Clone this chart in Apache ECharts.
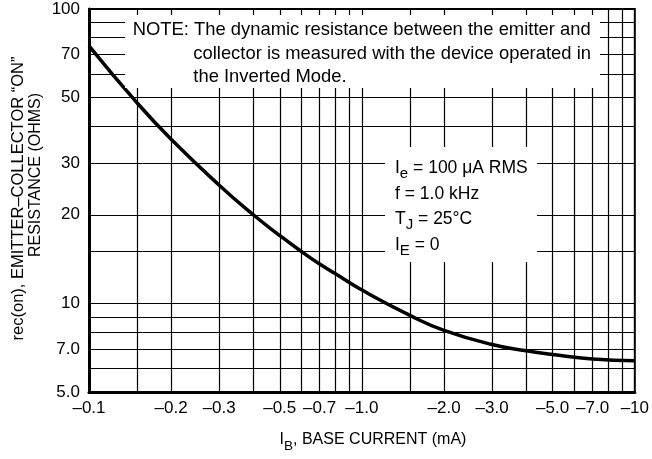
<!DOCTYPE html>
<html>
<head>
<meta charset="utf-8">
<script src="https://cdn.jsdelivr.net/npm/echarts@6/dist/echarts.min.js"></script>
<style>
  html, body { margin: 0; padding: 0; background: #fff; }
  #chart { width: 652px; height: 459px; }
</style>
</head>
<body>
<div id="chart"></div>
<script>
// values
const baseCurrent = [0.1, 0.15, 0.2, 0.3, 0.4, 0.5, 0.6, 0.7, 0.8, 1.0, 1.5, 2.0, 3.0, 4.0, 5.0, 7.0, 10];
const resistance = [75, 48, 36.1, 25.2, 20, 17.0, 15.0, 13.6, 12.6, 11.1, 9.1, 8.1, 7.25, 6.9, 6.7, 6.47, 6.38];

const xTickValues = [0.1, 0.2, 0.3, 0.5, 0.7, 1, 2, 3, 5, 7, 10];
const xTickLabels = ["–0.1", "–0.2", "–0.3", "–0.5", "–0.7", "–1.0", "–2.0", "–3.0", "–5.0", "–7.0", "–10"];
const yTickValues = [5, 7, 10, 20, 30, 50, 70, 100];
const yTickLabels = ["5.0", "7.0", "10", "20", "30", "50", "70", "100"];

const xGridValues = [0.15, 0.2, 0.3, 0.4, 0.5, 0.6, 0.7, 0.8, 0.9, 1, 1.5, 2, 3, 4, 5, 6, 7, 8, 9];
const yGridValues = [6, 7, 8, 9, 10, 15, 20, 30, 40, 50, 60, 70, 80, 90];

const noteLines = [
  "NOTE: The dynamic resistance between the emitter and",
  "collector is measured with the device operated in",
  "the Inverted Mode."
];

const FONT = '"Liberation Sans", Arial, sans-serif';

function lookup(values, labels, v) {
  const i = values.findIndex((t) => Math.abs(t - v) < 1e-6 * t);
  return i < 0 ? "" : labels[i];
}

const chart = echarts.init(document.getElementById("chart"));

const gridLines = [];
xGridValues.forEach((v) => gridLines.push({ xAxis: v }));
yGridValues.forEach((v) => gridLines.push({ yAxis: v }));

// rich text: normal + lowered subscript
function subRich(size, subSize, drop) {
  const pad = size * 0.8465 + drop - subSize * 0.8465;
  return {
    n: { fontSize: size, fontFamily: FONT, color: "#000", verticalAlign: "top", lineHeight: size },
    s: { fontSize: subSize, fontFamily: FONT, color: "#000", verticalAlign: "top", lineHeight: subSize, padding: [pad, 0, 0, 0] }
  };
}

const option = {
  animation: false,
  textStyle: { fontFamily: FONT },
  grid: {
    left: 89,
    right: 14,
    top: 9,
    bottom: 67,
    show: true,
    borderColor: "#000",
    borderWidth: 2
  },
  xAxis: {
    type: "log",
    logBase: 10,
    min: 0.1,
    max: 10,
    axisLine: { show: true, onZero: false, lineStyle: { color: "#000", width: 3 } },
    axisTick: { show: false },
    splitLine: { show: false },
    minorSplitLine: { show: false },
    axisLabel: {
      customValues: xTickValues,
      formatter: (v) => lookup(xTickValues, xTickLabels, v),
      color: "#000",
      fontSize: 17,
      fontFamily: FONT,
      margin: 8
    }
  },
  yAxis: {
    type: "log",
    logBase: 10,
    min: 5,
    max: 100,
    axisLine: { show: true, onZero: false, lineStyle: { color: "#000", width: 3 } },
    axisTick: { show: false },
    splitLine: { show: false },
    axisLabel: {
      customValues: yTickValues,
      formatter: (v) => lookup(yTickValues, yTickLabels, v),
      color: "#000",
      fontSize: 17,
      fontFamily: FONT,
      margin: 9
    }
  },
  series: [
    {
      // grid lines of the datasheet
      type: "line",
      data: [],
      silent: true,
      markLine: {
        silent: true,
        symbol: "none",
        label: { show: false },
        lineStyle: { color: "#000", width: 1.2, type: "solid" },
        emphasis: { disabled: true },
        data: gridLines
      }
    },
    {
      type: "line",
      z: 10,
      data: baseCurrent.map((x, i) => [x, resistance[i]]),
      showSymbol: false,
      symbol: "none",
      smooth: 0.5,
      lineStyle: { color: "#000", width: 3.5 }
    }
  ],
  graphic: [
    // white panels behind the notes
    { type: "rect", z: 100, shape: { x: 125, y: 15, width: 475, height: 73 }, style: { fill: "#fff" } },
    { type: "rect", z: 100, shape: { x: 385, y: 147, width: 152, height: 115 }, style: { fill: "#fff" } },
    { type: "text", z: 101, style: { x: 132.7, y: 20.6, text: noteLines[0], font: "18.4px " + FONT, fill: "#000", verticalAlign: "top" } },
    { type: "text", z: 101, style: { x: 193.3, y: 44.6, text: noteLines[1], font: "18.4px " + FONT, fill: "#000", verticalAlign: "top" } },
    { type: "text", z: 101, style: { x: 193.3, y: 67.6, text: noteLines[2], font: "18.4px " + FONT, fill: "#000", verticalAlign: "top" } },
    { type: "text", z: 101, style: { x: 395, y: 159.2, text: "{n|I}{s|e}{n| = 100 μA RMS}", rich: subRich(17.5, 15, 5), verticalAlign: "top" } },
    { type: "text", z: 101, style: { x: 395, y: 185.2, text: "f = 1.0 kHz", font: "17.5px " + FONT, fill: "#000", verticalAlign: "top" } },
    { type: "text", z: 101, style: { x: 395, y: 210.2, text: "{n|T}{s|J}{n| = 25°C}", rich: subRich(17.5, 15, 5), verticalAlign: "top" } },
    { type: "text", z: 101, style: { x: 395, y: 236.2, text: "{n|I}{s|E}{n| = 0}", rich: subRich(17.5, 15, 5), verticalAlign: "top" } },
    // axis titles
    { type: "text", z: 101, style: { x: 373, y: 431.5, text: "{n|I}{s|B}{n|, BASE CURRENT (mA)}", rich: subRich(16, 13.5, 5.5), align: "center", verticalAlign: "top" } },
    { type: "text", z: 101, x: 18, y: 198.5, rotation: Math.PI / 2, style: { x: 0, y: 0, text: "rec(on), EMITTER–COLLECTOR “ON”", font: "16.5px " + FONT, fill: "#000", align: "center", verticalAlign: "middle" } },
    { type: "text", z: 101, x: 36, y: 175, rotation: Math.PI / 2, style: { x: 0, y: 0, text: "RESISTANCE (OHMS)", font: "16px " + FONT, fill: "#000", align: "center", verticalAlign: "middle" } }
  ]
};

chart.setOption(option);
</script>
</body>
</html>
